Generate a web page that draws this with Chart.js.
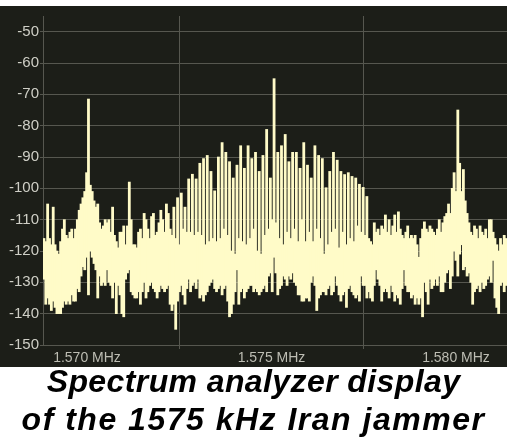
<!DOCTYPE html>
<html>
<head>
<meta charset="utf-8">
<script src="https://cdn.jsdelivr.net/npm/chart.js@4/dist/chart.umd.min.js"></script>
<style>
  html, body { margin: 0; padding: 0; background: #fff; }
  body { width: 507px; height: 443px; position: relative; overflow: hidden; }
  #panel { position: absolute; left: 0; top: 6px; width: 507px; height: 361px; background: #1c1e18; }
  #spec { display: block; }
  #caption {
    position: absolute; left: 0; top: 362px; width: 507px;
    text-align: center; color: #000;
    font: italic bold 32px "Liberation Sans", Arial, sans-serif;
    line-height: 38px;
  }
  #caption .l1 { letter-spacing: 0.4px; }
  #caption .l2 { letter-spacing: 1.5px; }
</style>
</head>
<body>
<div id="panel"><canvas id="spec" width="507" height="361"></canvas></div>
<div id="caption"><span class="l1">Spectrum analyzer display</span><br><span class="l2">of the 1575 kHz Iran jammer</span></div>
<script>
// frequency axis (kHz): left edge of the display and width of one bin
const F_START = 1568.8076;
const BIN_KHZ = 0.050298;
const N_BINS = 250;

const xTicks = [1570, 1575, 1580];
const yTicks = [-150, -140, -130, -120, -110, -100, -90, -80, -70, -60, -50];

// upper edge of each bin (dBm)
const high = [
  -116, -117, -105, -116, -118, -106, -118, -120, -121, -117,
  -113, -110, -115, -116, -114, -113, -116, -113, -110, -107,
  -105, -103, -101, -95, -71.5, -99, -101, -104, -106, -105,
  -111, -113, -112, -110, -111, -110, -114, -106, -115, -117,
  -119, -114, -114, -112, -118, -112, -98, -110, -118, -118,
  -119, -114, -113, -116, -108, -110, -113, -116, -109, -108,
  -115, -114, -111, -107, -110, -114, -105, -108, -113, -115,
  -106, -116, -103, -118, -101.5, -113, -106, -114, -97, -114,
  -95.5, -115, -97, -114, -92, -115, -90.5, -118, -89.5, -117,
  -94.6, -116, -100.8, -117, -90, -116, -85.4, -113, -88.5, -115,
  -91.5, -120, -96.7, -121, -92.6, -116, -86.4, -117, -93.6, -118,
  -86.4, -116, -90.5, -113, -88.5, -120, -94.6, -121, -89.5, -115,
  -81.2, -113, -96.7, -110, -65, -111, -88.5, -116, -86.4, -118,
  -82.8, -114, -91.5, -116, -88.5, -113, -88.5, -117, -93.6, -110,
  -85.4, -117, -92.6, -114, -96.7, -117, -86.4, -113, -89.5, -116,
  -90.5, -121, -99.8, -118, -94.6, -114, -88.5, -113, -91, -119,
  -94.6, -114, -95.6, -118, -95, -116, -96.2, -117, -96.7, -112,
  -98.7, -114, -99.7, -115, -102.6, -116, -117, -118, -111, -114,
  -113, -115, -112, -113, -108.5, -114, -110, -115, -112, -108.5,
  -114, -107.5, -113, -115, -116, -114, -112, -116, -115, -116,
  -115, -118, -122, -116, -113, -110.7, -113, -114, -112, -113,
  -114, -115, -113, -110, -114, -111, -109, -108, -105, -108,
  -100, -95, -101, -75, -92, -101, -94, -104, -108, -111,
  -114, -115, -112, -113, -116, -112, -114, -115, -113, -116,
  -110, -110, -114, -116, -118, -120, -116, -118, -115, -116
];

// lower edge of each bin (dBm)
const low = [
  -129, -137, -135, -137, -139, -136, -138, -140, -140, -140,
  -138, -136, -137, -136, -137, -134, -136, -136, -132, -133,
  -128, -125, -126, -122, -134, -120, -122, -124, -126, -135,
  -128, -131, -130, -131, -126, -130, -131, -135, -130, -140,
  -131, -134, -140, -141, -129, -127, -126, -133, -134, -135,
  -135, -133, -137, -133, -130, -135, -133, -131, -130, -132,
  -133, -135, -133, -131, -132, -133, -132, -131, -137, -139,
  -137, -145, -136, -133, -131, -134, -137, -132, -129, -133,
  -131, -130, -132, -129, -135, -134, -136, -134, -133, -131,
  -130, -129, -132, -133, -132, -131, -134, -132, -131, -136,
  -141, -140, -137, -133, -126, -137, -133, -132, -135, -133,
  -132, -131, -131, -133, -132, -133, -134, -133, -132, -131,
  -133, -128, -127, -133, -122, -127, -134, -132, -131, -128,
  -129, -131, -128, -129, -127, -130, -131, -134, -134, -136,
  -136, -135, -135, -136, -130, -128, -131, -139, -135, -134,
  -133, -133, -134, -132, -131, -134, -133, -128, -131, -134,
  -136, -134, -133, -138, -132, -131, -133, -134, -135, -134,
  -136, -128, -131, -131, -135, -133, -135, -136, -131, -126,
  -129, -131, -136, -133, -132, -133, -135, -131, -133, -136,
  -134, -135, -137, -132, -126, -131, -133, -133, -135, -134,
  -137, -135, -137, -135, -141, -130, -133, -137, -129, -132,
  -131, -129, -131, -128, -133, -133, -130, -127, -126, -132,
  -128, -120, -123, -128, -121, -118, -126, -125, -128, -127,
  -130, -137, -133, -132, -131, -133, -130, -132, -131, -129,
  -128, -130, -123, -135, -138, -140, -131, -130, -133, -131
];

// bin centre frequencies
const freqs = high.map((_, i) => F_START + BIN_KHZ * (i + 0.5));

const gridColor = '#56574f';
Chart.defaults.font.family = "'Liberation Sans', Arial, sans-serif";

new Chart(document.getElementById('spec'), {
  type: 'bar',
  data: {
    datasets: [{
      data: freqs.map((f, i) => ({ x: f, y: [low[i], high[i]] })),
      backgroundColor: '#fffbc8',
      borderWidth: 0,
      barThickness: 2.15
    }]
  },
  options: {
    responsive: false,
    animation: false,
    devicePixelRatio: 1,
    layout: { padding: 0 },
    plugins: { legend: { display: false }, tooltip: { enabled: false } },
    scales: {
      x: {
        type: 'linear',
        min: F_START,
        max: F_START + BIN_KHZ * N_BINS,
        offset: false,
        afterBuildTicks: axis => { axis.ticks = xTicks.map(v => ({ value: v })); },
        afterFit: scale => { scale.height = 22; },
        grid: { color: gridColor, tickLength: 4 },
        border: { color: gridColor },
        ticks: {
          color: '#bdbdb3',
          font: { size: 14 },
          padding: 1,
          maxRotation: 0,
          autoSkip: false,
          callback: v => (v / 1000).toFixed(3) + ' MHz'
        }
      },
      y: {
        min: -150,
        max: -45,
        afterBuildTicks: axis => { axis.ticks = yTicks.map(v => ({ value: v })); },
        afterFit: scale => { scale.width = 43; },
        grid: { color: gridColor, tickLength: 3 },
        border: { color: gridColor },
        ticks: {
          color: '#cfcfc6',
          font: { size: 15 },
          padding: 1,
          callback: v => String(v)
        }
      }
    }
  }
});
</script>
</body>
</html>
